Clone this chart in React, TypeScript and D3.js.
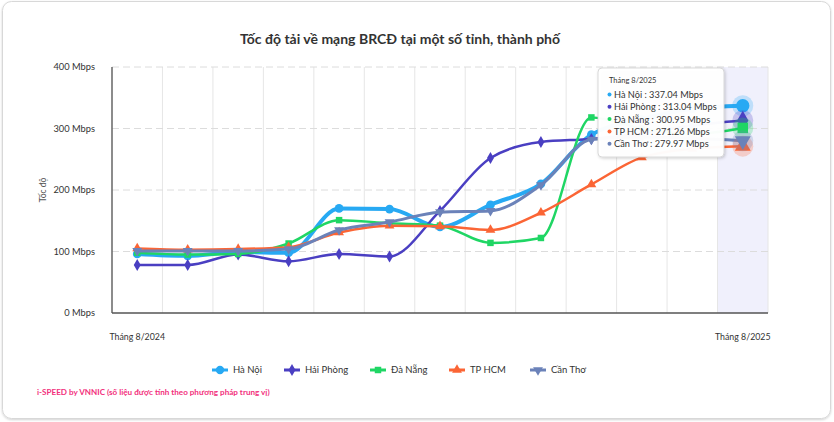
import React from "react";
import * as d3 from "d3";

// ── Data ─────────────────────────────────────────────────────────────
const MONTHS = [
  "Tháng 8/2024", "Tháng 9/2024", "Tháng 10/2024", "Tháng 11/2024",
  "Tháng 12/2024", "Tháng 1/2025", "Tháng 2/2025", "Tháng 3/2025",
  "Tháng 4/2025", "Tháng 5/2025", "Tháng 6/2025", "Tháng 7/2025",
  "Tháng 8/2025",
];
const SHOWN_LABELS = ["Tháng 8/2024", "Tháng 8/2025"];
const Y_TICKS = [0, 100, 200, 300, 400];

const HA_NOI    = [96, 93, 99, 98, 170, 169, 140, 176, 210, 290, 315, 332, 337.04];
const HAI_PHONG = [78, 78, 95, 84, 96, 92, 166, 252, 278, 283, 292, 305, 313.04];
const DA_NANG   = [98, 95, 96, 113, 151, 146, 142, 114, 122, 318, 300, 291, 300.95];
const TP_HCM    = [105, 103, 104, 107, 131, 142, 141, 135, 163, 209, 253, 267, 271.26];
const CAN_THO   = [101, 101, 101, 104, 135, 148, 164, 166, 208, 282, 286, 284, 279.97];

const SERIES = [
  { name: "Hà Nội",    values: HA_NOI,    color: "#27a9f3", width: 4,   symbol: "circle" },
  { name: "Hải Phòng", values: HAI_PHONG, color: "#4a3fc2", width: 2.5, symbol: "diamond" },
  { name: "Đà Nẵng",   values: DA_NANG,   color: "#1fd664", width: 2.5, symbol: "square" },
  { name: "TP HCM",    values: TP_HCM,    color: "#fb6535", width: 2.5, symbol: "triangle" },
  { name: "Cần Thơ",   values: CAN_THO,   color: "#6b82b9", width: 3,   symbol: "triangle-down" },
];

const FONT = "Lato, 'Noto Sans', sans-serif";
const W = 834;
const H = 422;

// ── Helpers ──────────────────────────────────────────────────────────
function symbolPath(kind: string, size: number): string {
  const map: Record<string, d3.SymbolType> = {
    circle: d3.symbolCircle,
    diamond: d3.symbolDiamond,
    square: d3.symbolSquare,
    triangle: d3.symbolTriangle,
    "triangle-down": d3.symbolTriangle,
  };
  return d3.symbol(map[kind], size)() || "";
}

function Marker({ kind, x, y, size, color }: { kind: string; x: number; y: number; size: number; color: string }) {
  const rot = kind === "triangle-down" ? 180 : 0;
  return (
    <path
      d={symbolPath(kind, size)}
      transform={`translate(${x},${y}) rotate(${rot})`}
      fill={color}
    />
  );
}

export default function App() {
  const margin = { top: 67, right: 66, bottom: 109, left: 112 };
  const innerR = W - margin.right;
  const innerB = H - margin.bottom;

  const x = d3.scaleBand<string>().domain(MONTHS).range([margin.left, innerR]).padding(0);
  const y = d3.scaleLinear().domain([0, 400]).range([innerB, margin.top]);
  const cx = (m: string) => (x(m) ?? 0) + x.bandwidth() / 2;

  const line = d3
    .line<number>()
    .x((_, i) => cx(MONTHS[i]))
    .y((d) => y(d))
    .curve(d3.curveMonotoneX);

  const last = MONTHS[MONTHS.length - 1];
  const lastIdx = MONTHS.length - 1;

  // tooltip box
  const tip = { x: 598, y: 68, w: 126, h: 89 };

  // legend layout
  const legendX = [212, 284, 370, 449, 530];

  return (
    <svg
      width={W}
      height={H}
      style={{ position: "absolute", left: 0, top: 0, fontFamily: FONT }}
    >
      <defs>
        <filter id="cardShadow" x="-5%" y="-5%" width="110%" height="110%">
          <feDropShadow dx="0" dy="1" stdDeviation="1.2" floodColor="#000" floodOpacity="0.18" />
        </filter>
        <filter id="tipShadow" x="-20%" y="-20%" width="140%" height="140%">
          <feDropShadow dx="1" dy="1" stdDeviation="1.5" floodColor="#000" floodOpacity="0.2" />
        </filter>
      </defs>

      {/* Card */}
      <rect x={2.5} y={1.5} width={828} height={417} rx={9} fill="#fff" stroke="#d8d8d8" filter="url(#cardShadow)" />

      {/* Title */}
      <text x={400} y={44} textAnchor="middle" fontSize={14} fontWeight="bold" fill="#333">
        Tốc độ tải về mạng BRCĐ tại một số tỉnh, thành phố
      </text>

      {/* Hover band */}
      <rect x={x(last)} y={margin.top} width={x.bandwidth()} height={innerB - margin.top} fill="#f0f0fc" />

      {/* Vertical grid (category boundaries) */}
      {MONTHS.slice(1).map((m) => (
        <line key={m} x1={x(m)} x2={x(m)} y1={margin.top} y2={innerB} stroke="#e6e6e6" strokeWidth={1} />
      ))}
      <line x1={innerR} x2={innerR} y1={margin.top} y2={innerB} stroke="#e6e6e6" strokeWidth={1} />

      {/* Horizontal dashed grid */}
      {Y_TICKS.filter((t) => t > 0).map((t) => (
        <line key={t} x1={margin.left} x2={innerR} y1={y(t)} y2={y(t)} stroke="#dcdcdc" strokeWidth={1} strokeDasharray="7,4" />
      ))}

      {/* Y tick labels */}
      {Y_TICKS.map((t) => (
        <text key={t} x={95} y={y(t) + 3} textAnchor="end" fontSize={9.3} fill="#333">
          {`${t} Mbps`}
        </text>
      ))}

      {/* Y axis title */}
      <text transform={`translate(46,${(margin.top + innerB) / 2}) rotate(-90)`} textAnchor="middle" fontSize={8.5} fill="#555">
        Tốc độ
      </text>

      {/* Axes */}
      <line x1={margin.left} x2={margin.left} y1={margin.top} y2={innerB} stroke="#666" strokeWidth={1.5} />
      <line x1={margin.left} x2={innerR} y1={innerB} y2={innerB} stroke="#555" strokeWidth={1.5} />

      {/* X labels */}
      {SHOWN_LABELS.map((m) => (
        <text key={m} x={cx(m)} y={340} textAnchor="middle" fontSize={8.8} fill="#333">
          {m}
        </text>
      ))}

      {/* Series */}
      {SERIES.map((s) => (
        <g key={s.name}>
          <path d={line(s.values) || ""} fill="none" stroke={s.color} strokeWidth={s.width} strokeLinejoin="round" strokeLinecap="round" />
          {s.values.slice(0, lastIdx).map((v, i) => (
            <Marker key={i} kind={s.symbol} x={cx(MONTHS[i])} y={y(v)} size={s.symbol === "circle" ? 60 : 42} color={s.color} />
          ))}
        </g>
      ))}

      {/* Hover markers at last point */}
      {SERIES.map((s) => (
        <g key={s.name + "-hover"}>
          <circle cx={cx(last)} cy={y(s.values[lastIdx])} r={10.5} fill={s.color} opacity={0.25} />
          <Marker kind={s.symbol} x={cx(last)} y={y(s.values[lastIdx])} size={s.symbol === "circle" ? 140 : 110} color={s.color} />
        </g>
      ))}

      {/* Tooltip */}
      <g>
        <rect x={tip.x} y={tip.y} width={tip.w} height={tip.h} rx={4} fill="#fff" fillOpacity={0.97} stroke="#cfcfcf" strokeWidth={0.8} filter="url(#tipShadow)" />
        <text x={tip.x + 11} y={tip.y + 15} fontSize={7.5} fill="#333">
          {last}
        </text>
        {SERIES.map((s, i) => (
          <g key={s.name + "-tip"}>
            <circle cx={tip.x + 11.5} cy={tip.y + 26.5 + i * 12.3} r={2} fill={s.color} />
            <text x={tip.x + 16} y={tip.y + 30 + i * 12.3} fontSize={9.2} fill="#333">
              {`${s.name} : ${s.values[lastIdx].toFixed(2)} Mbps`}
            </text>
          </g>
        ))}
      </g>

      {/* Legend */}
      {SERIES.map((s, i) => (
        <g key={s.name + "-legend"}>
          <line x1={legendX[i]} x2={legendX[i] + 16} y1={370} y2={370} stroke={s.color} strokeWidth={3} />
          <Marker kind={s.symbol} x={legendX[i] + 8} y={370} size={s.symbol === "circle" ? 55 : 42} color={s.color} />
          <text x={legendX[i] + 21} y={373} fontSize={9.5} fill="#333">
            {s.name}
          </text>
        </g>
      ))}

      {/* Credit */}
      <text x={37} y={395} fontSize={8.1} fill="#f2307c" fontWeight="bold">
        i-SPEED by VNNIC (số liệu được tính theo phương pháp trung vị)
      </text>
    </svg>
  );
}
